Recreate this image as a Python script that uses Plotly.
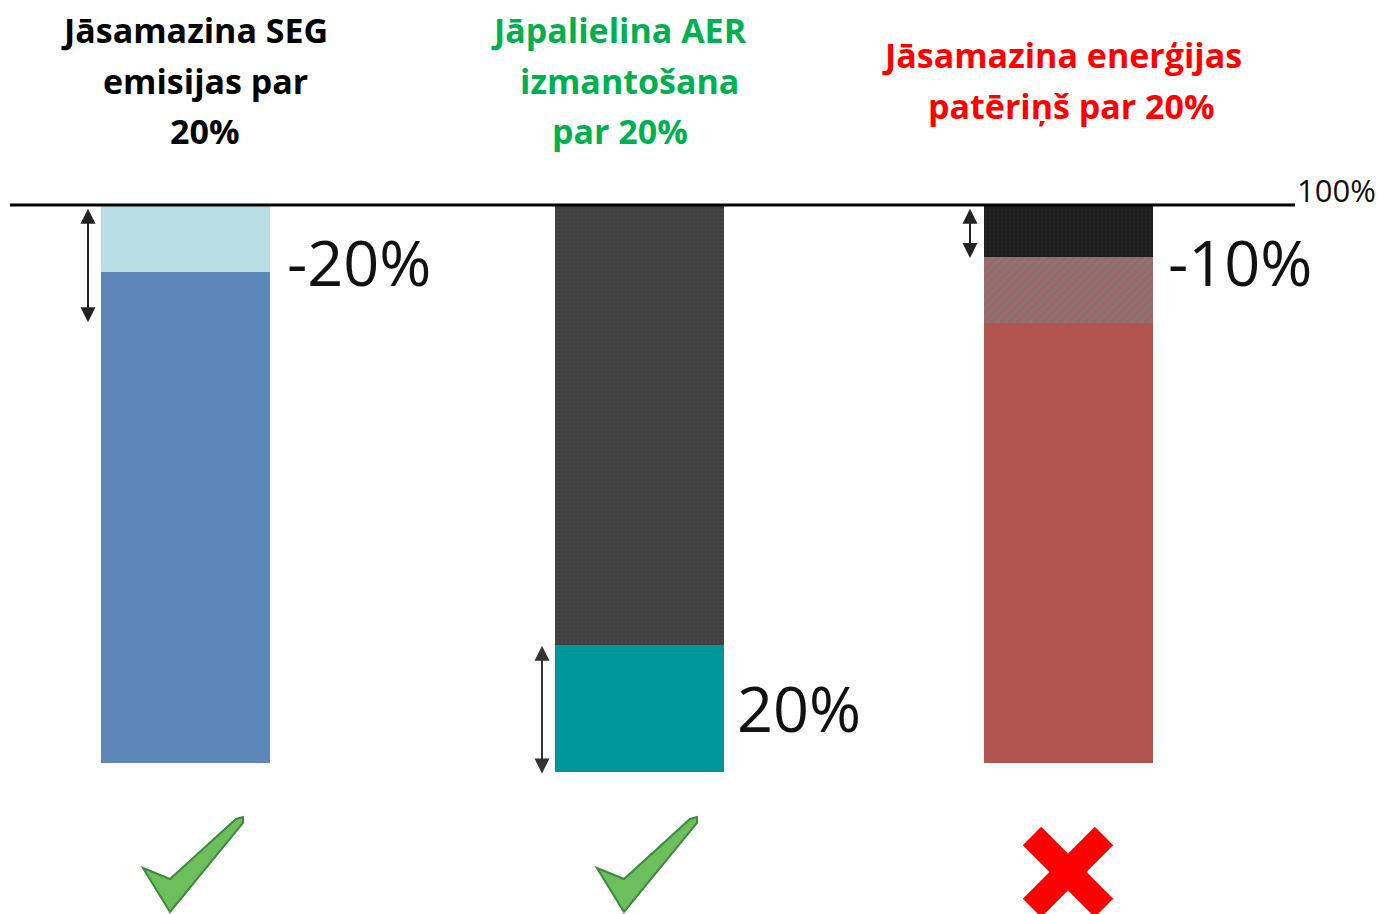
import plotly.graph_objects as go

# ---------------- data ----------------
categories = ["SEG emisijas", "AER izmantošana", "Enerģijas patēriņš"]
# stacked segments per bar, listed from top (100%) downward: (label, value in % units)
bar1_segments = [("samazinājums", 12.0), ("atlikums", 88.0)]
bar2_segments = [("pārējie", 78.9), ("AER", 22.7)]
bar3_segments = [("samazinājums", 9.3), ("trūkums", 11.8), ("atlikums", 78.9)]
top_level = 100.0
value_labels = ["-20%", "20%", "-10%"]
value_label_levels = [89.8, 10.0, 89.8]
arrow_spans = [(99.6, 79.0), (21.3, -1.9), (99.6, 90.5)]
reference_label = "100%"
titles = [
    ["Jāsamazina SEG", "emisijas par", "20%"],
    ["Jāpalielina AER", "izmantošana", "par 20%"],
    ["Jāsamazina enerģijas", "patēriņš par 20%"],
]
verdicts = ["ok", "ok", "fail"]

# ---------------- layout / style ----------------
W, H = 1389, 914
OFF = 8  # page body margin in the browser
PXU = 5.58  # pixels per % unit
Y_TOP = 100 + (205 - OFF) / PXU
Y_BOT = Y_TOP - H / PXU
bar_pos = [185.5, 639.5, 1068.0]
bar_width = 169
seg_styles = [
    [dict(color="#b8dfe3"), dict(color="#5d87b9")],
    [dict(color="#414141", pattern=dict(shape="+", fgcolor="#5c5c5c", bgcolor="#3e3e3e", size=4, solidity=0.3)),
     dict(color="#00979a")],
    [dict(color="#1c1c1c", pattern=dict(shape="+", fgcolor="#3a3a3a", bgcolor="#1a1a1a", size=4, solidity=0.3)),
     dict(color="#9c6d6d", pattern=dict(shape="/", fgcolor="#b25a57", bgcolor="#8a7474", size=6, solidity=0.5)),
     dict(color="#b1534f")],
]
title_colors = ["#000000", "#00b050", "#ff0000"]
title_x = [[194, 205, 205], [619, 629, 620], [1062, 1071]]
title_y = [[30, 81, 131], [30, 81, 131], [55, 106]]
label_x = [285, 735, 1166]
arrow_x = [88, 542, 970]
arrow_colors = ["#222222", "#333333", "#222222"]

def py(p):  # screen pixel row -> paper y
    return 1 - (p - OFF) / H

fig = go.Figure()
for i, segs in enumerate([bar1_segments, bar2_segments, bar3_segments]):
    level = top_level
    for j, (name, val) in enumerate(segs):
        st = seg_styles[i][j]
        fig.add_trace(go.Bar(
            x=[bar_pos[i]], y=[val], base=[level - val], width=bar_width,
            name=f"{categories[i]} – {name}",
            marker=dict(color=st["color"], pattern=st.get("pattern"), line=dict(width=0)),
            hovertemplate=f"{categories[i]}<br>{name}: %{{y}}<extra></extra>",
            showlegend=False,
        ))
        level -= val

# 100% line
fig.add_shape(type="line", x0=10, x1=1295, y0=top_level, y1=top_level,
              xref="x", yref="y", line=dict(color="#000000", width=3), layer="above")
fig.add_annotation(x=1296, y=top_level, text=reference_label, showarrow=False,
                   xanchor="left", yanchor="bottom", yshift=-7, borderpad=0,
                   font=dict(family="Open Sans", size=31, color="#111111"))

# value labels
for i, t in enumerate(value_labels):
    fig.add_annotation(x=label_x[i], y=value_label_levels[i], text=t, showarrow=False,
                       xanchor="left", yanchor="middle",
                       font=dict(family="Open Sans", size=63, color="#111111"))

# double arrows
for i, (a, b) in enumerate(arrow_spans):
    fig.add_annotation(x=arrow_x[i], y=b, ax=arrow_x[i], ay=a, xref="x", yref="y",
                       axref="x", ayref="y", text="", showarrow=True,
                       arrowhead=2, startarrowhead=2, arrowside="end+start",
                       arrowsize=1.5, startarrowsize=1.5, arrowwidth=2,
                       arrowcolor=arrow_colors[i])

# titles
for i, lines in enumerate(titles):
    for k, line in enumerate(lines):
        fig.add_annotation(x=title_x[i][k], y=py(title_y[i][k]), yref="paper", xref="x",
                           text=f"<b>{line}</b>", showarrow=False, borderpad=0,
                           xanchor="center", yanchor="middle",
                           font=dict(family="Open Sans", size=34, color=title_colors[i]))

# verdict icons
def check_path(ox, oy):
    pts = [(143, 868), (170, 879), (236, 819), (243, 817), (243, 823), (170, 912)]
    s = ""
    for n, (px_, pp) in enumerate(pts):
        s += ("M" if n == 0 else "L") + f"{px_ - 143 + ox},{py(pp - 868 + oy):.5f} "
    return s + "Z"

icon_origin = [(143, 868), (597, 868), (1068, 872)]
for i, v in enumerate(verdicts):
    if v == "ok":
        ox, oy = icon_origin[i]
        fig.add_shape(type="path", path=check_path(ox, oy), xref="x", yref="paper",
                      fillcolor="#6cbf5c", line=dict(color="#3b8a3d", width=2), layer="above")
    else:
        cx, cy = icon_origin[i]
        for dx in (1, -1):
            fig.add_shape(type="line", x0=cx - 36 * dx, y0=py(cy - 36), x1=cx + 36 * dx, y1=py(cy + 36),
                          xref="x", yref="paper", line=dict(color="#ff0000", width=26), layer="above")

fig.update_layout(
    width=W, height=H, margin=dict(l=0, r=0, t=0, b=0),
    paper_bgcolor="#ffffff", plot_bgcolor="#ffffff",
    barmode="overlay", bargap=0,
    xaxis=dict(range=[OFF, W + OFF], visible=False, fixedrange=True),
    yaxis=dict(range=[Y_BOT, Y_TOP], visible=False, fixedrange=True),
    showlegend=False,
)
fig.write_html("out.html")
